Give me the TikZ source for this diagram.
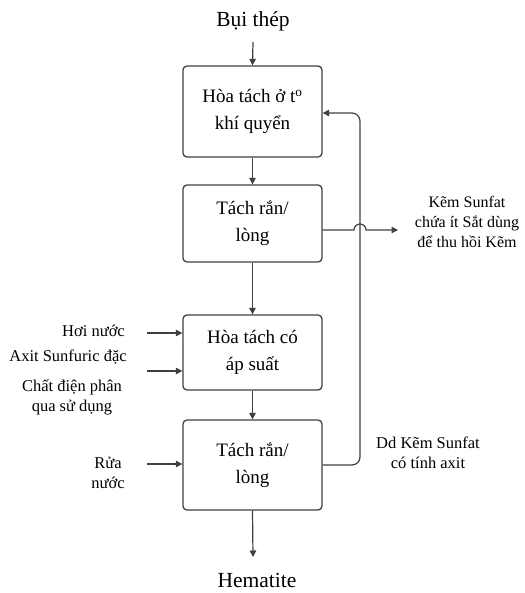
\documentclass[tikz,border=0pt]{standalone}
\usepackage{fontspec}
\setmainfont{Liberation Serif}
\usetikzlibrary{arrows.meta}
\begin{document}
\begin{tikzpicture}[x=1pt,y=-1pt,
  proc/.style={draw=black!75,line width=1.3pt,rounded corners=4pt,minimum width=139pt,align=center,font=\fontsize{19}{27}\selectfont},
  lbl/.style={align=center,font=\fontsize{16.5}{20}\selectfont,inner sep=0pt},
  big/.style={font=\fontsize{21.5}{24}\selectfont,inner sep=0pt},
  conn/.style={draw=black!75,line width=1.2pt,-{Triangle[length=6.5pt,width=6.5pt]}}]
\useasboundingbox (0,0) rectangle (524,593);
\node[proc,minimum height=91pt] (b1) at (252.5,111.5) {Hòa tách ở t\textsuperscript{o}\\khí quyển};
\node[proc,minimum height=77pt] (b2) at (252.5,223.5) {Tách rắn/\\lòng};
\node[proc,minimum height=75pt] (b3) at (252.5,352.5) {Hòa tách có\\áp suất};
\node[proc,minimum height=90pt] (b4) at (252.5,465) {Tách rắn/\\lòng};
\node[big] (top) at (253,21) {Bụi thép};
\node[big] (bot) at (257,580) {Hematite};
\node[lbl,font=\fontsize{16}{20}\selectfont] (kem) at (467,222) {Kẽm Sunfat\\chứa ít Sắt dùng\\để thu hồi Kẽm};
\node[lbl] (dd) at (428,453) {Dd Kẽm Sunfat\\có tính axit};
\node[lbl,anchor=east] (hoi) at (125,331) {Hơi nước};
\node[lbl] (axit) at (68,357) {Axit Sunfuric đặc};
\node[lbl] (chat) at (72,397) {Chất điện phân\\qua sử dụng};
\node[lbl] (rua) at (108,473) {Rửa\\nước};
\coordinate (t0) at (253,42);
\coordinate (h0) at (253,557);
\coordinate (k0) at (398,230);
\coordinate (a1) at (147,333);
\coordinate (a2) at (147,371);
\coordinate (a3) at (147,464);
\draw[conn] (t0) -- (b1.north);
\draw[conn] (b1.south) -- (b2.north);
\draw[conn] (b2.south) -- (b3.north);
\draw[conn] (b3.south) -- (b4.north);
\draw[conn] (b4.south) -- (h0);
\draw[conn] (a1) -- (a1 -| b3.west);
\draw[conn] (a2) -- (a2 -| b3.west);
\draw[conn] (a3) -- (a3 -| b4.west);
\draw[conn,rounded corners=8pt] (b4.east |- 0,465) -- (360,465) -- (360,113) -- (b1.east |- 0,113);
\draw[conn] (b2.east |- 0,230) -- (354,230) arc[start angle=180,end angle=360,radius=6] -- (k0);
\end{tikzpicture}
\end{document}
